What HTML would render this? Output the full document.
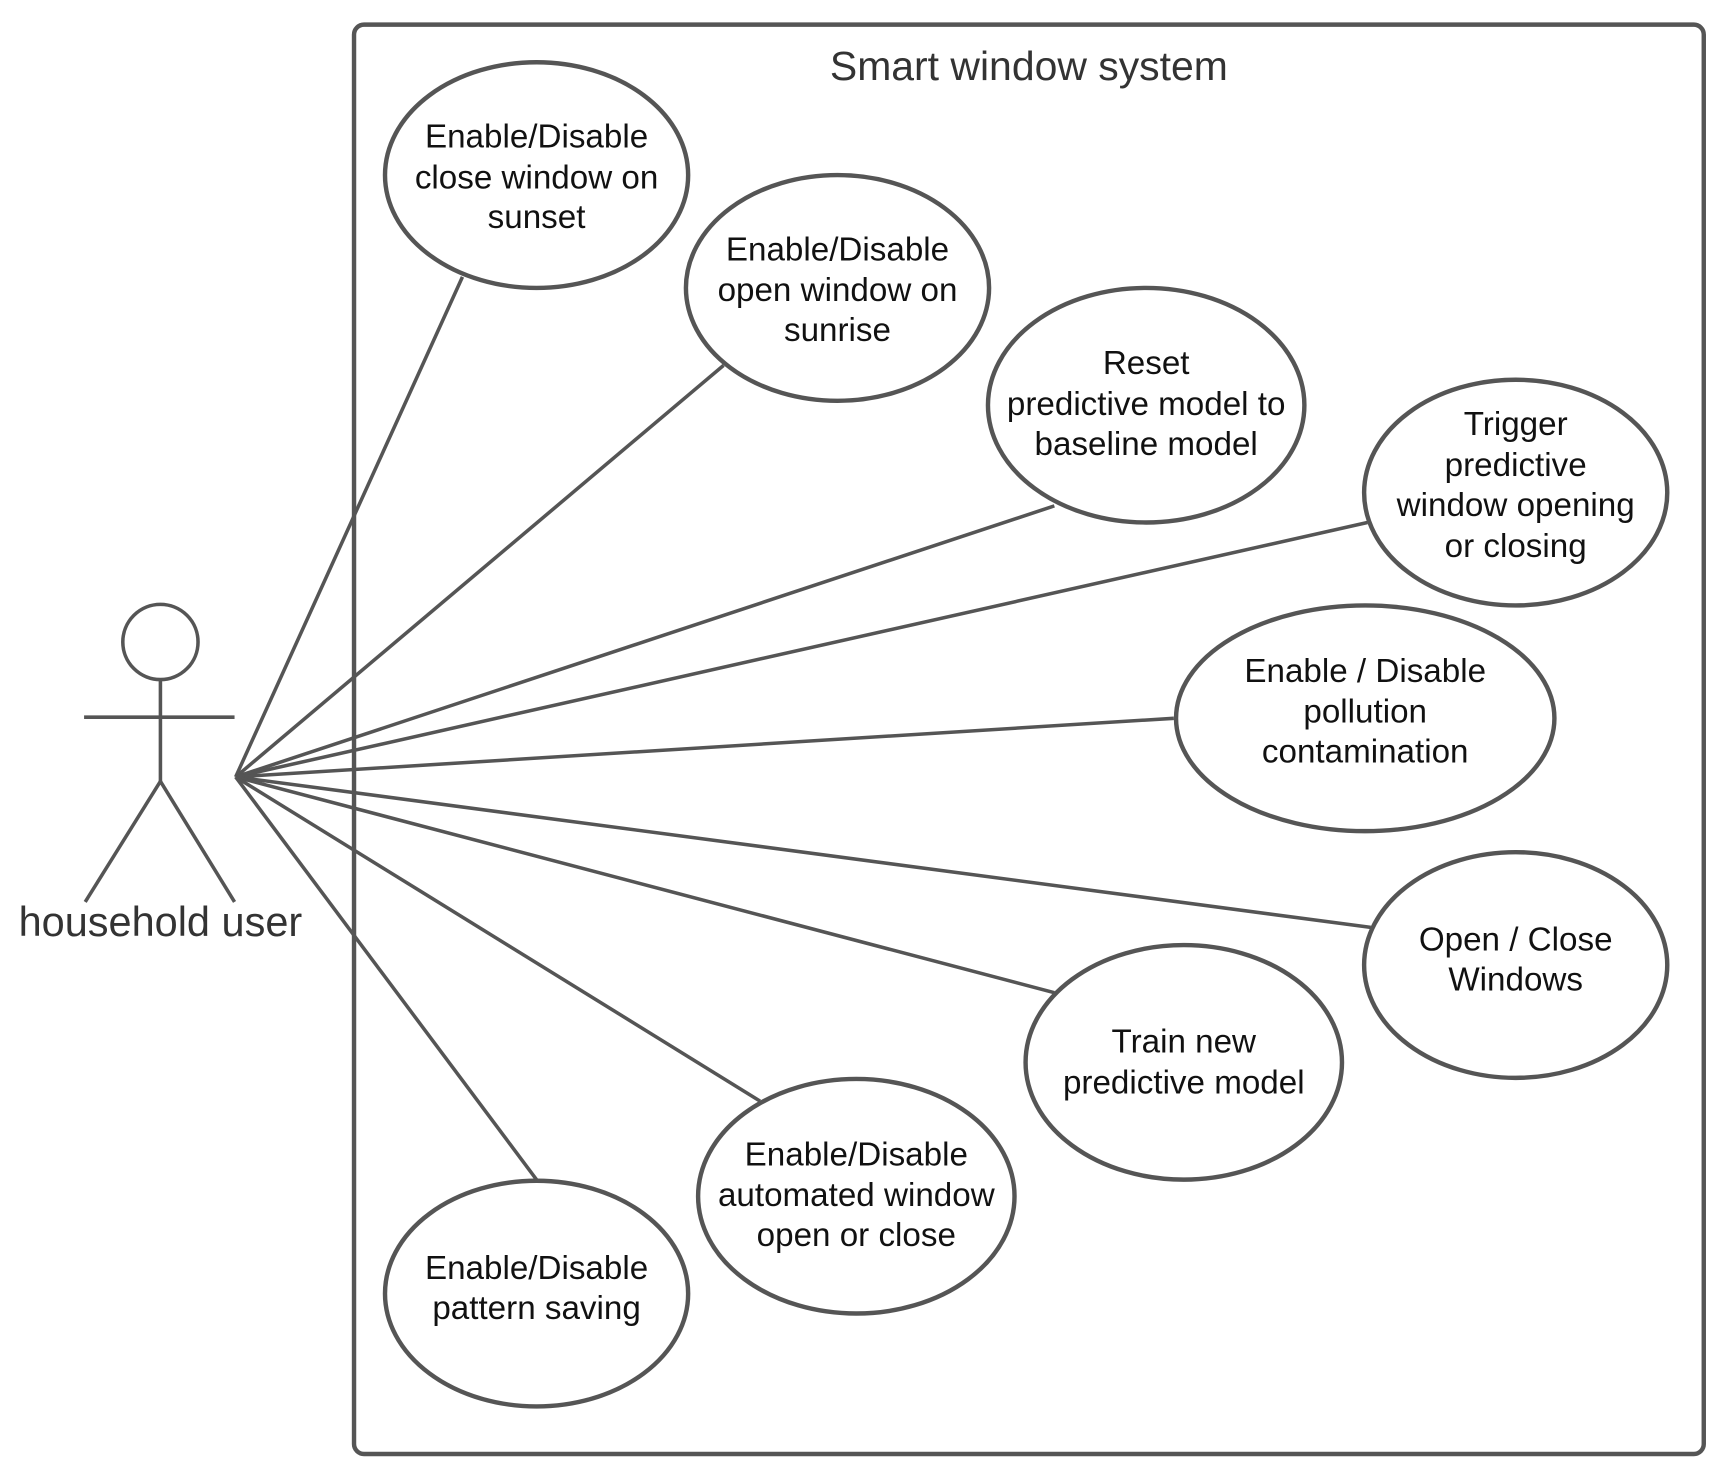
<!DOCTYPE html>
<html><head><style>html,body{margin:0;padding:0;background:#fff}svg{display:block}</style></head>
<body>
<svg width="1727" height="1472" viewBox="0 0 1561 1330" xmlns="http://www.w3.org/2000/svg" font-family="Liberation Sans, sans-serif">
<rect x="320" y="22" width="1220" height="1292" rx="9" fill="none" stroke="#555" stroke-width="4"/>
<text x="930" y="72" font-size="37" fill="#333" text-anchor="middle">Smart window system</text>
<g stroke="#555" stroke-width="3.2" fill="none">
<line x1="213" y1="702" x2="418" y2="250"/>
<line x1="213" y1="702" x2="654" y2="330"/>
<line x1="213" y1="702" x2="953" y2="457"/>
<line x1="213" y1="702" x2="1236" y2="472"/>
<line x1="213" y1="702" x2="1061" y2="649"/>
<line x1="213" y1="702" x2="1239" y2="838"/>
<line x1="213" y1="702" x2="953" y2="897"/>
<line x1="213" y1="702" x2="687" y2="995"/>
<line x1="213" y1="702" x2="485" y2="1066"/>
<circle cx="145" cy="580" r="34"/>
<line x1="145" y1="614" x2="145" y2="706"/>
<line x1="76" y1="648" x2="212" y2="648"/>
<line x1="145" y1="706" x2="77" y2="815"/>
<line x1="145" y1="706" x2="212" y2="815"/>
</g>
<g stroke="#555" stroke-width="4" fill="#fff">
<ellipse cx="485" cy="158" rx="137" ry="102"/>
<ellipse cx="757" cy="260" rx="137" ry="102"/>
<ellipse cx="1036" cy="366" rx="143" ry="106"/>
<ellipse cx="1370" cy="445" rx="137" ry="102"/>
<ellipse cx="1234" cy="649" rx="171" ry="102"/>
<ellipse cx="1370" cy="872" rx="137" ry="102"/>
<ellipse cx="1070" cy="960" rx="143" ry="106"/>
<ellipse cx="774" cy="1081" rx="143" ry="106"/>
<ellipse cx="485" cy="1169" rx="137" ry="102"/>
</g>
<text x="145" y="846" font-size="37.5" fill="#333" text-anchor="middle">household user</text>
<g font-size="30" fill="#111" text-anchor="middle">
<text x="485" y="133">Enable/Disable</text><text x="485" y="170">close window on</text><text x="485" y="206">sunset</text>
<text x="757" y="235">Enable/Disable</text><text x="757" y="272">open window on</text><text x="757" y="308">sunrise</text>
<text x="1036" y="338">Reset</text><text x="1036" y="375">predictive model to</text><text x="1036" y="411">baseline model</text>
<text x="1370" y="393">Trigger</text><text x="1370" y="430">predictive</text><text x="1370" y="466">window opening</text><text x="1370" y="503">or closing</text>
<text x="1234" y="616">Enable / Disable</text><text x="1234" y="653">pollution</text><text x="1234" y="689">contamination</text>
<text x="1370" y="859">Open / Close</text><text x="1370" y="895">Windows</text>
<text x="1070" y="951">Train new</text><text x="1070" y="988">predictive model</text>
<text x="774" y="1053">Enable/Disable</text><text x="774" y="1090">automated window</text><text x="774" y="1126">open or close</text>
<text x="485" y="1156">Enable/Disable</text><text x="485" y="1192">pattern saving</text>
</g>
</svg>
</body></html>
